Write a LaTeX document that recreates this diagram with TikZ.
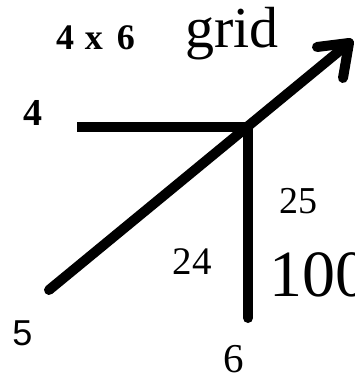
\documentclass[tikz,border=0pt]{standalone}
\usepackage{fontspec}
\setmainfont{Liberation Serif}
\newfontfamily\sansf{Liberation Sans}
\begin{document}
\begin{tikzpicture}[x=1pt,y=-1pt,
  lbl/.style={inner sep=0pt,outer sep=0pt,text=black},
  thick line/.style={line width=10pt,black}]
\useasboundingbox (0,0) rectangle (355,377);
% points
\coordinate (s) at (49,290);
\coordinate (t) at (349,43);
\coordinate (bl) at (317,47);
\coordinate (br) at (343,78);
\coordinate (h) at (77,127);
\coordinate (j) at (248,127);
\coordinate (b) at (248,318);
% lines
\draw[thick line,line cap=butt] (h) -- (j);
\draw[thick line,line cap=round] (j) -- (b);
\draw[thick line,line cap=round] (s) -- (t);
\draw[thick line,line cap=round,line join=round] (bl) -- (t) -- (br);
% texts
\node[lbl,anchor=base west,font=\fontsize{36}{38}\selectfont\bfseries] (t46) at (56,50) {4\hspace{11pt}x\hspace{14pt}6};
\node[lbl,anchor=base west,font=\fontsize{58}{60}\selectfont] (grid) at (185,48) {grid};
\node[lbl,anchor=base,font=\fontsize{38}{40}\selectfont\bfseries] (n4) at (32.5,125) {4};
\node[lbl,anchor=base,font=\fontsize{36}{40}\selectfont\sansf] (n5) at (22.5,345) {5};
\node[lbl,anchor=base,font=\fontsize{41}{44}\selectfont] (n6) at (234,372) {6};
\node[lbl,anchor=base,font=\fontsize{39}{44}\selectfont] (n24) at (192,274) {24};
\node[lbl,anchor=base,font=\fontsize{38}{42}\selectfont] (n25) at (298,213) {25};
\node[lbl,anchor=base west,font=\fontsize{66}{70}\selectfont] (n100) at (269,296) {100};
\end{tikzpicture}
\end{document}
